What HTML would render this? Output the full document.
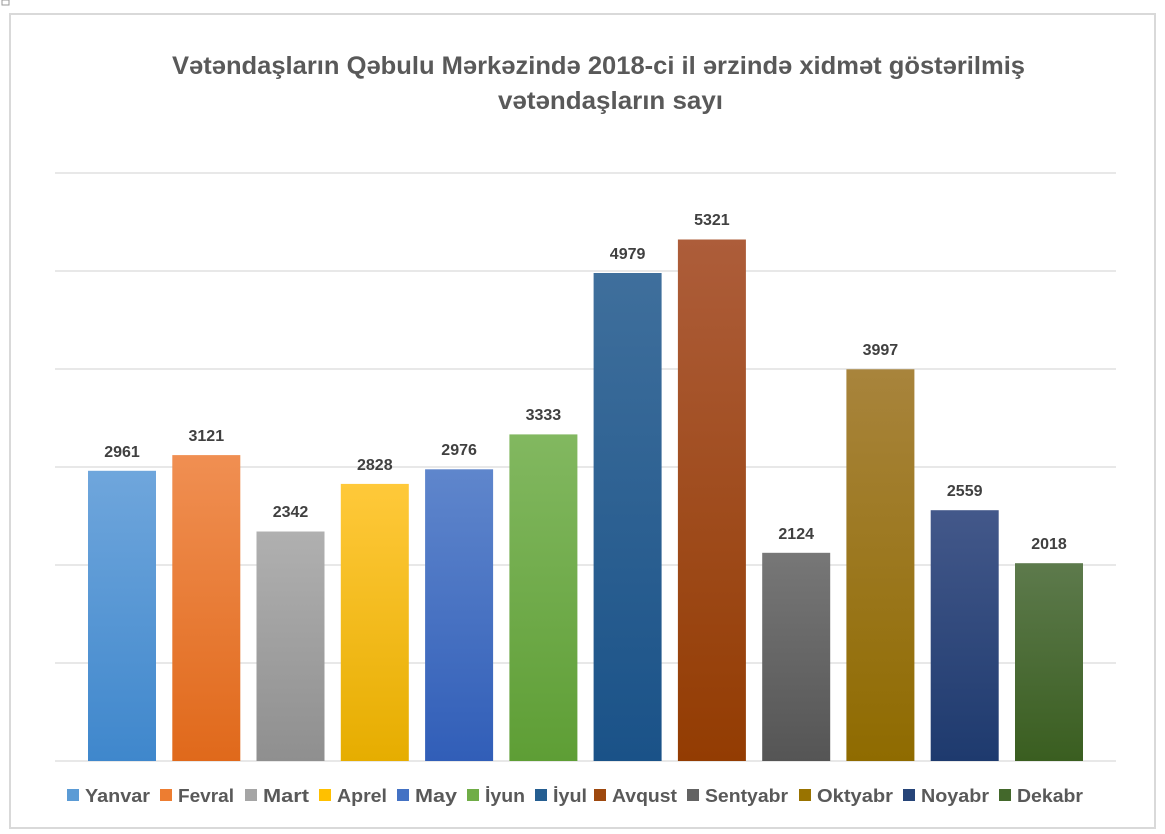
<!DOCTYPE html>
<html><head><meta charset="utf-8"><style>
body{margin:0;background:#fff;}
svg{display:block;font-family:"Liberation Sans",sans-serif;}
</style></head><body>
<svg width="1165" height="834" viewBox="0 0 1165 834">
<defs>
<linearGradient id="g0" x1="0" y1="0" x2="0" y2="1"><stop offset="0" stop-color="#6fa6dc"/><stop offset="1" stop-color="#3f87cc"/></linearGradient>
<linearGradient id="g1" x1="0" y1="0" x2="0" y2="1"><stop offset="0" stop-color="#f08f52"/><stop offset="1" stop-color="#e0691b"/></linearGradient>
<linearGradient id="g2" x1="0" y1="0" x2="0" y2="1"><stop offset="0" stop-color="#b0b0b0"/><stop offset="1" stop-color="#8f8f8f"/></linearGradient>
<linearGradient id="g3" x1="0" y1="0" x2="0" y2="1"><stop offset="0" stop-color="#ffc93a"/><stop offset="1" stop-color="#e6ad00"/></linearGradient>
<linearGradient id="g4" x1="0" y1="0" x2="0" y2="1"><stop offset="0" stop-color="#5f86cc"/><stop offset="1" stop-color="#315eb8"/></linearGradient>
<linearGradient id="g5" x1="0" y1="0" x2="0" y2="1"><stop offset="0" stop-color="#82b860"/><stop offset="1" stop-color="#5e9e35"/></linearGradient>
<linearGradient id="g6" x1="0" y1="0" x2="0" y2="1"><stop offset="0" stop-color="#3f6f9c"/><stop offset="1" stop-color="#1a5288"/></linearGradient>
<linearGradient id="g7" x1="0" y1="0" x2="0" y2="1"><stop offset="0" stop-color="#ad5d3a"/><stop offset="1" stop-color="#933c02"/></linearGradient>
<linearGradient id="g8" x1="0" y1="0" x2="0" y2="1"><stop offset="0" stop-color="#777777"/><stop offset="1" stop-color="#555555"/></linearGradient>
<linearGradient id="g9" x1="0" y1="0" x2="0" y2="1"><stop offset="0" stop-color="#a8843c"/><stop offset="1" stop-color="#8f6b00"/></linearGradient>
<linearGradient id="g10" x1="0" y1="0" x2="0" y2="1"><stop offset="0" stop-color="#43588a"/><stop offset="1" stop-color="#1e3a6e"/></linearGradient>
<linearGradient id="g11" x1="0" y1="0" x2="0" y2="1"><stop offset="0" stop-color="#5d7a4c"/><stop offset="1" stop-color="#3a5e20"/></linearGradient>
</defs>
<rect x="0" y="0" width="1165" height="834" fill="#fff"/>
<rect x="2" y="0" width="7" height="5" fill="none" stroke="#999" stroke-width="1"/>
<rect x="10" y="14" width="1145" height="814" fill="#fff" stroke="#d9d9d9" stroke-width="2"/>
<text x="172" y="74" textLength="853" lengthAdjust="spacingAndGlyphs" font-size="25" font-weight="bold" fill="#595959">Vətəndaşların Qəbulu Mərkəzində 2018-ci il ərzində xidmət göstərilmiş</text>
<text x="498" y="109" textLength="225" lengthAdjust="spacingAndGlyphs" font-size="25" font-weight="bold" fill="#595959">vətəndaşların sayı</text>
<g stroke="#d9d9d9" stroke-width="1.3">
<line x1="55" y1="173" x2="1116" y2="173"/><line x1="55" y1="271" x2="1116" y2="271"/>
<line x1="55" y1="369" x2="1116" y2="369"/><line x1="55" y1="467" x2="1116" y2="467"/>
<line x1="55" y1="565" x2="1116" y2="565"/><line x1="55" y1="663" x2="1116" y2="663"/>
<line x1="55" y1="761" x2="1116" y2="761"/>
</g>
<g font-size="16" font-weight="bold" fill="#404040" text-anchor="middle">
<rect x="88" y="470.8" width="68" height="290.2" fill="url(#g0)"/><text x="122" y="457">2961</text>
<rect x="172.3" y="455.1" width="68" height="305.9" fill="url(#g1)"/><text x="206.3" y="441">3121</text>
<rect x="256.5" y="531.5" width="68" height="229.5" fill="url(#g2)"/><text x="290.5" y="517">2342</text>
<rect x="340.8" y="483.9" width="68" height="277.1" fill="url(#g3)"/><text x="374.8" y="470">2828</text>
<rect x="425.1" y="469.3" width="68" height="291.7" fill="url(#g4)"/><text x="459.1" y="455">2976</text>
<rect x="509.4" y="434.4" width="68" height="326.6" fill="url(#g5)"/><text x="543.4" y="420">3333</text>
<rect x="593.6" y="273" width="68" height="488" fill="url(#g6)"/><text x="627.6" y="259">4979</text>
<rect x="677.9" y="239.5" width="68" height="521.5" fill="url(#g7)"/><text x="711.9" y="225">5321</text>
<rect x="762.2" y="552.8" width="68" height="208.2" fill="url(#g8)"/><text x="796.2" y="539">2124</text>
<rect x="846.4" y="369.3" width="68" height="391.7" fill="url(#g9)"/><text x="880.4" y="355">3997</text>
<rect x="930.7" y="510.2" width="68" height="250.8" fill="url(#g10)"/><text x="964.7" y="496">2559</text>
<rect x="1015" y="563.2" width="68" height="197.8" fill="url(#g11)"/><text x="1049" y="549">2018</text>
</g>
<g font-size="18" font-weight="bold" fill="#595959">
<rect x="67" y="789" width="12" height="12" fill="#5B9BD5"/><text x="85" y="802" textLength="65" lengthAdjust="spacingAndGlyphs">Yanvar</text>
<rect x="160" y="789" width="12" height="12" fill="#ED7D31"/><text x="178" y="802" textLength="56" lengthAdjust="spacingAndGlyphs">Fevral</text>
<rect x="245" y="789" width="12" height="12" fill="#A5A5A5"/><text x="263" y="802" textLength="46" lengthAdjust="spacingAndGlyphs">Mart</text>
<rect x="319" y="789" width="12" height="12" fill="#FFC000"/><text x="337" y="802" textLength="50" lengthAdjust="spacingAndGlyphs">Aprel</text>
<rect x="397" y="789" width="12" height="12" fill="#4472C4"/><text x="415" y="802" textLength="42" lengthAdjust="spacingAndGlyphs">May</text>
<rect x="467" y="789" width="12" height="12" fill="#70AD47"/><text x="485" y="802" textLength="40" lengthAdjust="spacingAndGlyphs">İyun</text>
<rect x="535" y="789" width="12" height="12" fill="#255E91"/><text x="553" y="802" textLength="34" lengthAdjust="spacingAndGlyphs">İyul</text>
<rect x="594" y="789" width="12" height="12" fill="#9E480E"/><text x="612" y="802" textLength="65" lengthAdjust="spacingAndGlyphs">Avqust</text>
<rect x="687" y="789" width="12" height="12" fill="#636363"/><text x="705" y="802" textLength="83" lengthAdjust="spacingAndGlyphs">Sentyabr</text>
<rect x="799" y="789" width="12" height="12" fill="#997300"/><text x="817" y="802" textLength="76" lengthAdjust="spacingAndGlyphs">Oktyabr</text>
<rect x="903" y="789" width="12" height="12" fill="#264478"/><text x="921" y="802" textLength="68" lengthAdjust="spacingAndGlyphs">Noyabr</text>
<rect x="999" y="789" width="12" height="12" fill="#43682B"/><text x="1017" y="802" textLength="66" lengthAdjust="spacingAndGlyphs">Dekabr</text>
</g>
</svg>
</body></html>
